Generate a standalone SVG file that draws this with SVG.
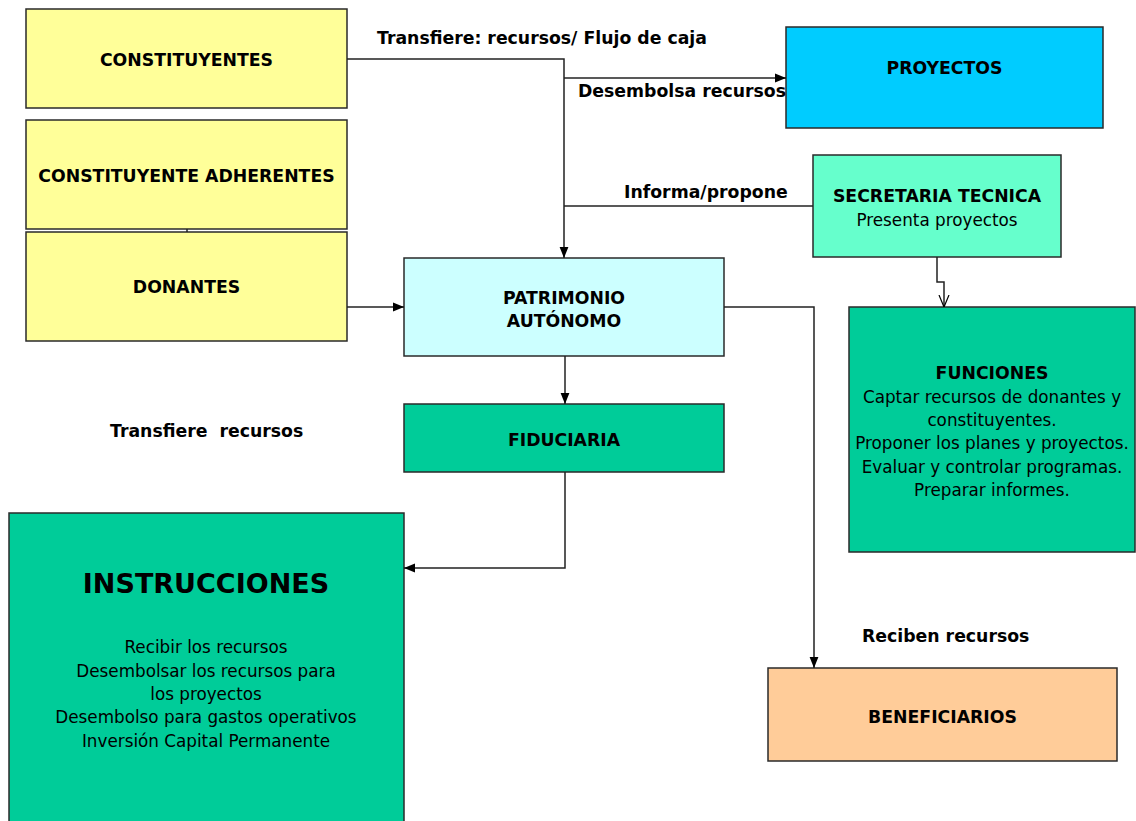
<svg xmlns="http://www.w3.org/2000/svg" width="1136" height="821" viewBox="0 0 1136 821">
<style>
text{font-family:"DejaVu Sans","Liberation Sans",sans-serif;fill:#000}
.b{font-weight:bold;font-size:17.3px}
.r{font-size:16.8px}
.c{text-anchor:middle}
.box{stroke:#2a2a2a;stroke-width:1.5}
.ln{fill:none;stroke:#222;stroke-width:1.5}
.y{fill:#FFFF99}.cy{fill:#00CCFF}.st{fill:#66FFCC}.g{fill:#00CC99}.pa{fill:#CCFFFF}.be{fill:#FFCC99}
</style>
<defs>
<marker id="a" viewBox="0 0 10 10" refX="10" refY="5" markerWidth="11" markerHeight="11" markerUnits="userSpaceOnUse" orient="auto"><path d="M0,1 L10,5 L0,9 z" fill="#000"/></marker>
<marker id="o" viewBox="0 0 12 12" refX="12" refY="6" markerWidth="12" markerHeight="12" markerUnits="userSpaceOnUse" orient="auto"><path d="M0,1 L12,6 L0,11" fill="none" stroke="#000" stroke-width="1.2"/></marker>
</defs>
<g id="constituyentes"><rect class="box y" x="26" y="9" width="321" height="99"/><text class="b c" x="186.5" y="66">CONSTITUYENTES</text></g>
<g id="adherentes"><rect class="box y" x="26" y="120" width="321" height="109"/><text class="b c" x="186.5" y="182">CONSTITUYENTE ADHERENTES</text></g>
<g id="donantes"><rect class="box y" x="26" y="232" width="321" height="109"/><text class="b c" x="186.5" y="293">DONANTES</text></g>
<g id="proyectos"><rect class="box cy" x="786" y="27" width="317" height="101"/><text class="b c" x="944.5" y="74">PROYECTOS</text></g>
<g id="secretaria"><rect class="box st" x="813" y="155" width="248" height="102"/><text class="b c" x="937" y="202">SECRETARIA TECNICA</text><text class="r c" x="937" y="226">Presenta proyectos</text></g>
<g id="patrimonio"><rect class="box pa" x="404" y="258" width="320" height="98"/><text class="b c" x="564" y="304">PATRIMONIO</text><text class="b c" x="564" y="327">AUTÓNOMO</text></g>
<g id="funciones"><rect class="box g" x="849" y="307" width="286" height="245"/>
<text class="b c" x="992" y="379">FUNCIONES</text>
<text class="r c" x="992" y="403">Captar recursos de donantes y</text>
<text class="r c" x="992" y="426">constituyentes.</text>
<text class="r c" x="992" y="449">Proponer los planes y proyectos.</text>
<text class="r c" x="992" y="473">Evaluar y controlar programas.</text>
<text class="r c" x="992" y="496">Preparar informes.</text></g>
<g id="fiduciaria"><rect class="box g" x="404" y="404" width="320" height="68"/><text class="b c" x="564" y="446">FIDUCIARIA</text></g>
<g id="instrucciones"><rect class="box g" x="9" y="513" width="395" height="320"/>
<text class="c" x="206" y="593" style="font-weight:bold;font-size:27px">INSTRUCCIONES</text>
<text class="r c" x="206" y="653">Recibir los recursos</text>
<text class="r c" x="206" y="677">Desembolsar los recursos para</text>
<text class="r c" x="206" y="700">los proyectos</text>
<text class="r c" x="206" y="723">Desembolso para gastos operativos</text>
<text class="r c" x="206" y="747">Inversión Capital Permanente</text></g>
<g id="beneficiarios"><rect class="box be" x="768" y="668" width="349" height="93"/><text class="b c" x="942.5" y="723">BENEFICIARIOS</text></g>
<g id="connectors">
<path class="ln" d="M187,229 V232"/>
<path class="ln" d="M347,59 H564 V258" marker-end="url(#a)"/>
<path class="ln" d="M564,78 H786" marker-end="url(#a)"/>
<path class="ln" d="M813,206 H564"/>
<path class="ln" d="M347,307 H404" marker-end="url(#a)"/>
<path class="ln" d="M937,257 V282 H944 V307" marker-end="url(#o)"/>
<path class="ln" d="M724,307 H814 V668" marker-end="url(#a)"/>
<path class="ln" d="M565,356 V404" marker-end="url(#a)"/>
<path class="ln" d="M565,472 V568 H404" marker-end="url(#a)"/>
</g>
<g id="labels">
<text class="b" x="377" y="44">Transfiere: recursos/ Flujo de caja</text>
<text class="b" x="578" y="97">Desembolsa recursos</text>
<text class="b" x="624" y="198">Informa/propone</text>
<text class="b" x="110" y="437" xml:space="preserve">Transfiere  recursos</text>
<text class="b" x="862" y="642">Reciben recursos</text>
</g>
</svg>
